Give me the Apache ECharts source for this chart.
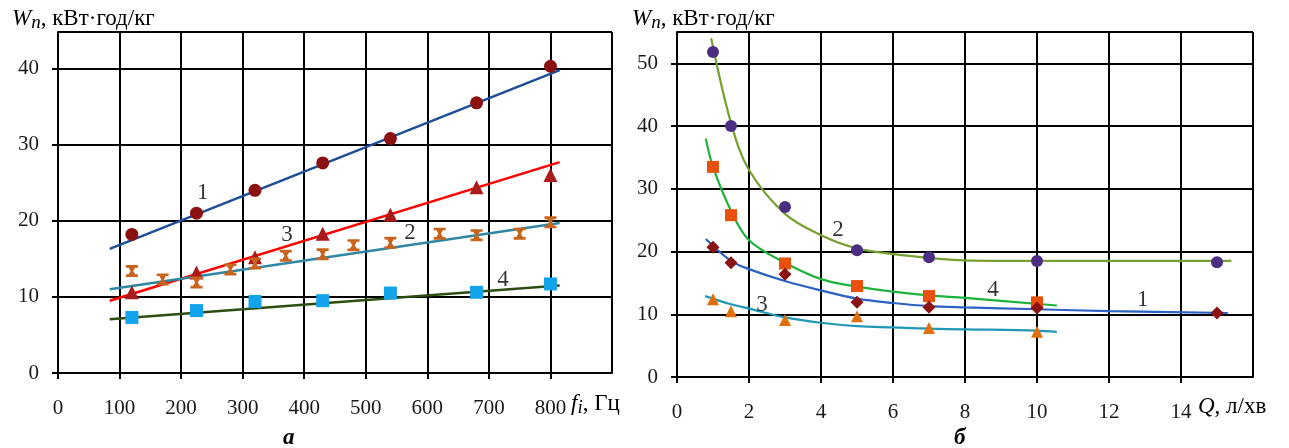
<!DOCTYPE html>
<html>
<head>
<meta charset="utf-8">
<script src="https://cdn.jsdelivr.net/npm/echarts@6/dist/echarts.min.js"></script>
<style>
  html, body { margin: 0; padding: 0; background: #fff; }
  #chart { width: 1289px; height: 448px; }
</style>
</head>
<body>
<div id="chart"></div>
<script>
// ---- панель а: W_n від частоти f_i ----
const aX1 = [120, 225, 320, 430, 540, 680, 800]
const aY1 = [18.2, 21.0, 24.0, 27.6, 30.8, 35.5, 40.3]
const aX3 = [120, 225, 320, 430, 540, 680, 800]
const aY3 = [10.6, 13.2, 15.2, 18.3, 20.8, 24.4, 26.0]
const aX2 = [120, 170, 225, 280, 320, 370, 430, 480, 540, 620, 680, 750, 800]
const aY2 = [13.4, 12.3, 11.9, 13.6, 14.4, 15.4, 15.6, 16.8, 17.1, 18.3, 18.1, 18.3, 19.8]
const aX4 = [120, 225, 320, 430, 540, 680, 800]
const aY4 = [7.3, 8.2, 9.4, 9.5, 10.5, 10.6, 11.7]
// лінії тренду (кінцеві точки)
const aTrendX = [84, 815]
const aTrend1 = [16.3, 39.8]
const aTrend3 = [9.5, 27.7]
const aTrend2 = [11.0, 19.7]
const aTrend4 = [7.05, 11.5]
// підписи кривих
const aLabels = [['1', 235, 23.6], ['3', 372, 18.1], ['2', 572, 18.4], ['4', 723, 12.2]]

// ---- панель б: W_n від витрати Q ----
const bQ = [1, 1.5, 3, 5, 7, 10, 15]
const bY2 = [51.8, 40.0, 27.1, 20.2, 19.1, 18.5, 18.3]
const bY1 = [20.7, 18.2, 16.4, 11.9, 11.1, 11.0, 10.2]
const bQs = [1, 1.5, 3, 5, 7, 10]
const bY4 = [33.5, 25.8, 18.1, 14.5, 12.9, 11.9]
const bY3 = [12.4, 10.5, 9.1, 9.7, 7.8, 7.2]
// згладжені криві
const c2X = [0.95, 1.5, 2, 3, 4, 5, 6, 8, 10, 15.4]
const c2Y = [54, 40.5, 33, 26, 22.6, 20.5, 19.6, 18.6, 18.5, 18.5]
const c4X = [0.8, 1, 1.5, 2, 3, 4, 5, 6, 7, 8, 10.55]
const c4Y = [38, 33.5, 26.5, 21.8, 18.2, 15.6, 14.4, 13.6, 13.0, 12.6, 11.4]
const c1X = [0.8, 1.5, 2, 3, 4, 5, 6, 7, 8, 10, 12, 15.3]
const c1Y = [22, 18.5, 17.2, 15.3, 13.8, 12.5, 11.8, 11.3, 11.1, 10.8, 10.5, 10.2]
const c3X = [0.78, 1.5, 2, 3, 4, 5, 6, 7, 8, 10, 10.55]
const c3Y = [12.9, 11.6, 10.9, 9.5, 8.65, 8.1, 7.9, 7.7, 7.6, 7.4, 7.2]
const bLabels = [['2', 4.47, 23.4], ['4', 8.78, 13.9], ['1', 12.94, 12.3], ['3', 2.36, 11.5]]

const zip = (xs, ys) => xs.map((x, i) => [x, ys[i]])
const FONT = 'Liberation Serif'
const starPath = 'path://M1,0 H9 V2.2 H7.2 L5.9,5 L7.2,7.8 H9 V10 H1 V7.8 H2.8 L4.1,5 L2.8,2.2 H1 Z'

const axisCommon = {
  axisLine: { show: true, onZero: false, lineStyle: { color: '#000', width: 2 } },
  axisTick: { show: true, length: 6, lineStyle: { color: '#000', width: 2 } },
  splitLine: { show: true, lineStyle: { color: '#000', width: 2 } },
  axisLabel: { fontFamily: FONT, fontSize: 21, color: '#1a1a1a', showMaxLabel: false }
}

const xAxisOf = (gridIndex, max, interval) => ({
  ...axisCommon, type: 'value', gridIndex, min: 0, max, interval,
  axisLabel: { ...axisCommon.axisLabel, margin: 25 }
})
const yAxisOf = (gridIndex, max) => ({
  ...axisCommon, type: 'value', gridIndex, min: 0, max, interval: 10,
  axisLabel: { ...axisCommon.axisLabel, margin: 19 }
})

const scatter = (idx, data, symbol, size, color) => ({
  type: 'scatter', xAxisIndex: idx, yAxisIndex: idx, data, symbol, symbolSize: size,
  itemStyle: { color, opacity: 1 }, z: 5, silent: true
})
const line = (idx, data, color, width, smooth) => ({
  type: 'line', xAxisIndex: idx, yAxisIndex: idx, data, symbol: 'none', smooth: smooth || false,
  lineStyle: { color, width }, z: 4, silent: true
})
const labels = (idx, list) => ({
  type: 'scatter', xAxisIndex: idx, yAxisIndex: idx, symbolSize: 0, z: 6, silent: true,
  data: list.map(([t, x, y]) => ({ value: [x, y], name: t })),
  label: { show: true, formatter: '{b}', position: 'inside', fontFamily: FONT, fontSize: 23, color: '#000' }
})

const nameRich = {
  w: { fontFamily: FONT, fontSize: 23, fontStyle: 'italic', fill: '#000' },
  n: { fontFamily: FONT, fontSize: 19, fontStyle: 'italic', fill: '#000', padding: [8, 0, 0, 0] },
  t: { fontFamily: FONT, fontSize: 23, fill: '#000' }
}
const textEl = (x, y, text, extra) => ({
  type: 'text', left: x, top: y, z: 10,
  style: { text, rich: nameRich, fontFamily: FONT, fontSize: 23, fill: '#000', ...extra }
})

const chart = echarts.init(document.getElementById('chart'))
chart.setOption({
  animation: false,
  grid: [
    { left: 58, top: 32, width: 554, height: 341 },
    { left: 677, top: 32, width: 576, height: 345 }
  ],
  xAxis: [xAxisOf(0, 900, 100), xAxisOf(1, 16, 2)],
  yAxis: [yAxisOf(0, 44.8), yAxisOf(1, 55)],
  series: [
    line(0, zip(aTrendX, aTrend1), '#1f4e96', 2.5),
    line(0, zip(aTrendX, aTrend3), '#ff0000', 2.5),
    line(0, zip(aTrendX, aTrend2), '#2f87a3', 2.5),
    line(0, zip(aTrendX, aTrend4), '#2e4d12', 2.5),
    scatter(0, zip(aX1, aY1), 'circle', 13, '#8b1010'),
    scatter(0, zip(aX3, aY3), 'triangle', 14, '#a81c1c'),
    scatter(0, zip(aX2, aY2), starPath, 12, '#c8641e'),
    scatter(0, zip(aX4, aY4), 'rect', 13, '#12a3ea'),
    labels(0, aLabels),

    line(1, zip(c2X, c2Y), '#76a030', 2.2, 0.35),
    line(1, zip(c4X, c4Y), '#1cb23c', 2.2, 0.35),
    line(1, zip(c1X, c1Y), '#2b62c4', 2.2, 0.35),
    line(1, zip(c3X, c3Y), '#1f97b5', 2.2, 0.35),
    scatter(1, zip(bQ, bY2), 'circle', 12, '#4b2d83'),
    scatter(1, zip(bQs, bY4), 'rect', 12, '#e8500c'),
    scatter(1, zip(bQ, bY1), 'diamond', 13, '#8b1212'),
    scatter(1, zip(bQs, bY3), 'triangle', 12, '#e0700c'),
    labels(1, bLabels)
  ],
  graphic: [
    textEl(12, 7, '{w|W}{n|n}{t|, кВт·год/кг}'),
    textEl(632, 7, '{w|W}{n|n}{t|, кВт·год/кг}'),
    textEl(571, 392, '{w|f}{n|i}{t|, Гц}'),
    textEl(1198, 395, '{w|Q}{t|, л/хв}'),
    textEl(283, 427, 'а', { fontStyle: 'italic', fontWeight: 'bold', fontSize: 23 }),
    textEl(954, 427, 'б', { fontStyle: 'italic', fontWeight: 'bold', fontSize: 23 })
  ]
})
</script>
</body>
</html>
